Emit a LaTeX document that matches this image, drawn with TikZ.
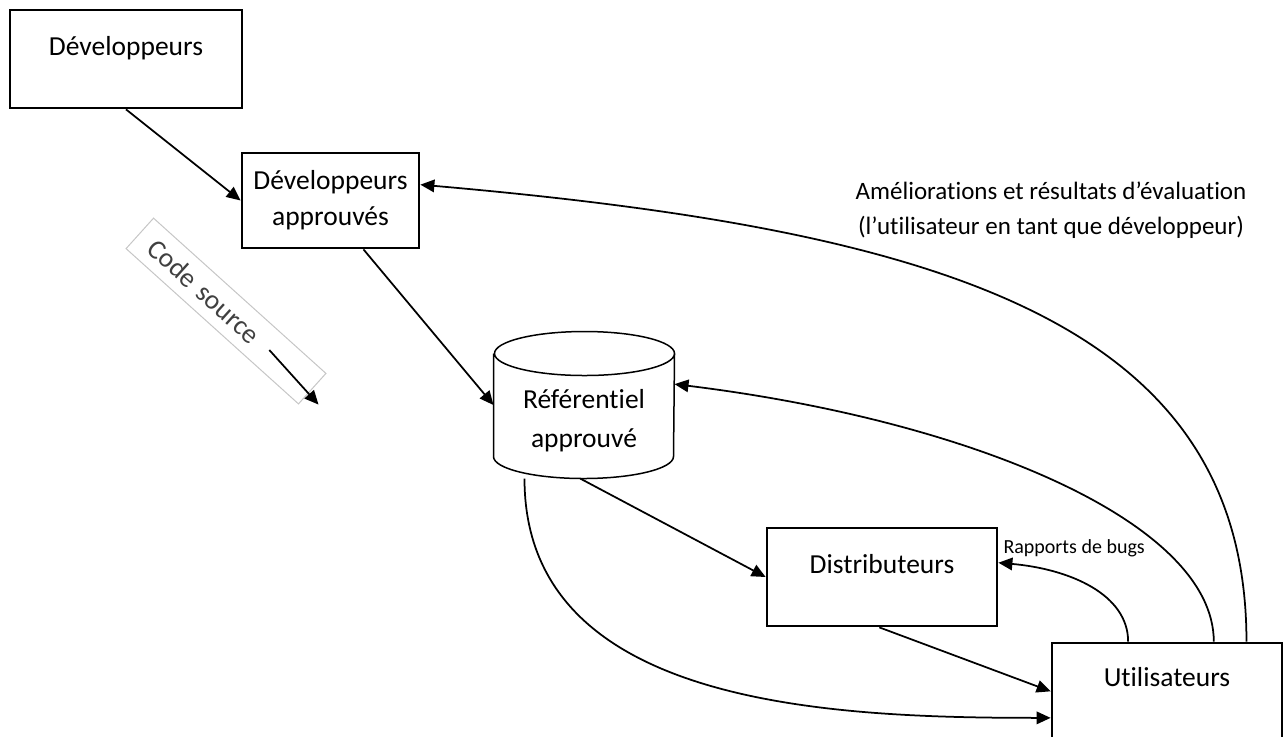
\documentclass[tikz,border=0pt]{standalone}
\usepackage{fontspec}
\setmainfont{Carlito}[Ligatures=NoCommon]
\usetikzlibrary{arrows.meta,calc}

\tikzset{
  box/.style={draw, line width=1.1pt, align=center},
  toptext/.style={text height=8pt, text depth=#1},
  arr/.style={-{Triangle[length=5.6pt,width=5pt]}, line width=0.7pt},
}

\begin{document}
\begin{tikzpicture}[x=0.4pt, y=0.4pt, font=\fontsize{11}{14.4}\selectfont]
  \useasboundingbox (0,0) rectangle (1284,-736);

  % boxes
  \node[box, toptext=11.2pt, minimum width=92.8pt, minimum height=39.2pt] (dev) at (126,-59) {Développeurs};
  \node[box, minimum width=70.8pt, minimum height=38pt] (devok) at (330.5,-200.5) {Développeurs\\approuvés};
  \node[box, toptext=11.2pt, minimum width=92pt, minimum height=39.2pt] (dist) at (882,-577) {Distributeurs};
  \node[box, toptext=20.4pt, minimum width=92pt, minimum height=46.8pt] (user) at (1167,-701.5) {Utilisateurs};

  % repository (cylinder drawn round the node)
  \node[align=center, minimum width=72pt, minimum height=58.4pt, text height=33.6pt, text depth=0pt,
        font=\fontsize{11}{15.6}\selectfont] (ref) at (584,-405) {Référentiel\\approuvé};
  \draw[line width=0.6pt] ([yshift=-8.8pt]ref.north west) -- ([yshift=8.8pt]ref.south west)
    arc[start angle=180, end angle=360, x radius=90, y radius=22]
    -- ([yshift=-8.8pt]ref.north east)
    arc[start angle=0, end angle=360, x radius=90, y radius=22];

  % rotated label
  \node[draw=gray!45, line width=0.4pt, text=black!75, rotate=-42, minimum width=92.8pt, minimum height=16.4pt,
        text width=80pt, align=left, inner xsep=6pt] (code) at (226,-311) {Code source};
  \draw[arr] ($(code.center)!0.5!(code.east)$) -- ([xshift=8pt]code.south east);

  % flow
  \draw[arr] (dev.south) -- (devok.west);
  \draw[arr] (devok.-56) -- (ref.180);
  \draw[arr] (ref.-93) -- (dist.west);
  \draw[arr] (dist.-93) -- (user.175);
  \draw[arr] (ref.-129) to[out=-90, in=180] (user.-172);

  % feedback
  \draw[arr] (user.123) to[out=90, in=-5, out looseness=0.8, in looseness=1.2] (dist.7);
  \node[font=\fontsize{8}{9}\selectfont, anchor=base west, inner sep=0pt] (bugs) at (1003,-553) {Rapports de bugs};
  \draw[arr] (user.52) to[out=90, in=-7, out looseness=0.51, in looseness=1.28] (ref.13);
  \draw[arr] (user.37) to[out=90, in=-5, out looseness=0.87, in looseness=1.41] (devok.10);
  \node[align=center, font=\fontsize{10}{14}\selectfont] (impr) at (1051,-210) {Améliorations et résultats d’évaluation\\(l’utilisateur en tant que développeur)};
\end{tikzpicture}
\end{document}
